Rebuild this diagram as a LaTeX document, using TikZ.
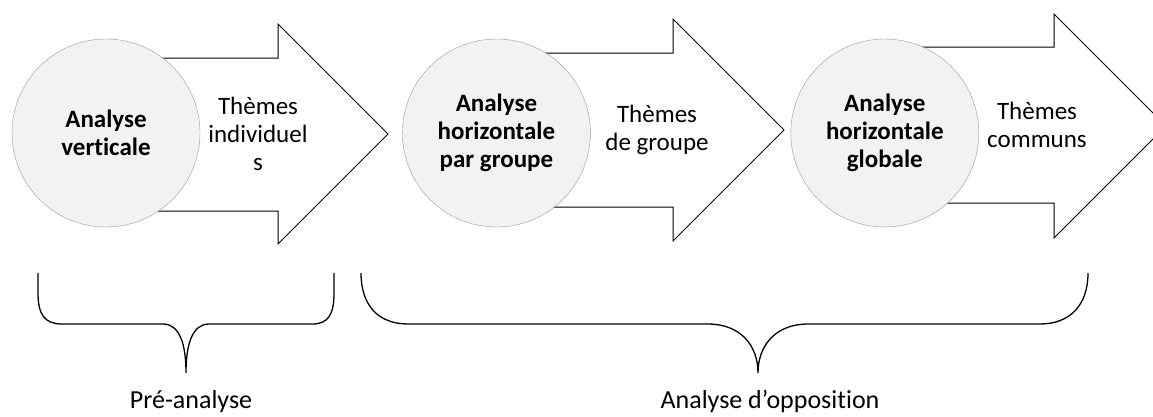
\documentclass[tikz,border=0pt]{standalone}
\usepackage{fontspec}
\setmainfont{Carlito}[Ligatures=NoCommon]
\usepackage{tikz}
\usetikzlibrary{positioning}

\begin{document}
\begin{tikzpicture}[x=1pt, y=-1pt]

\tikzstyle{every node}=[font=\fontsize{25}{28}\selectfont]
\tikzstyle{etape}=[circle, draw=gray!80, fill=gray!10, minimum size=188pt, inner sep=0pt, align=center, font=\fontsize{25}{28}\selectfont\bfseries]
\tikzstyle{fleche}=[draw, fill=white, line width=1]
\tikzstyle{theme}=[align=center, text centered]
\tikzstyle{accolade}=[line width=1.3]

\clip (0,0) rectangle (1153,416);

% fleches %
\draw[fleche] (106,58) -- (278,58) -- (278,24) -- (388,134) -- (278,244) -- (278,211) -- (106,211) -- cycle;
\draw[fleche] (496,53) -- (673,53) -- (673,19) -- (784,130) -- (673,241) -- (673,207) -- (496,207) -- cycle;
\draw[fleche] (884,47) -- (1054,47) -- (1054,14) -- (1166,126) -- (1054,238) -- (1054,203) -- (884,203) -- cycle;

% cercles %
\node[etape] (av) at (106,133) {Analyse\\verticale};
\node[etape, right = 202pt of av] (ahg) {Analyse\\horizontale\\par groupe};
\node[etape, right = 200pt of ahg] (ahgl) {Analyse\\horizontale\\globale};

% themes %
\node[theme] (ti) at (258,134) {Thèmes\\individuel\\s};
\node[theme] (tg) at (657,130) {Thèmes\\de groupe};
\node[theme] (tc) at (1037,125) {Thèmes\\communs};

% accolades %
\draw[accolade] (38,273) -- (38,293) .. controls (38,315) and (45,324) .. (62,324) -- (163,324)
  .. controls (180,324) and (186,345) .. (186,373)
  .. controls (186,345) and (192,324) .. (209,324) -- (312,324)
  .. controls (328,324) and (334,315) .. (334,293) -- (334,273);
\draw[accolade] (361,273) .. controls (361,305) and (378,324) .. (408,324) -- (708,324)
  .. controls (740,324) and (758,345) .. (758,373)
  .. controls (758,345) and (776,324) .. (808,324) -- (1040,324)
  .. controls (1070,324) and (1088,305) .. (1088,273);

% etiquettes %
\node[anchor=base, font=\fontsize{26}{28}\selectfont] (pre) at (191,408) {Pré-analyse};
\node[anchor=base, font=\fontsize{26}{28}\selectfont] (opp) at (770,408) {Analyse d’opposition};

\end{tikzpicture}
\end{document}
